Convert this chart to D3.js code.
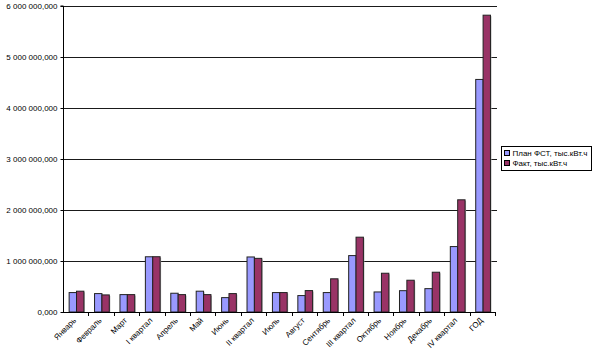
<!DOCTYPE html>
<html><head><meta charset="utf-8">
<script src="https://cdn.jsdelivr.net/npm/d3@7"></script>
<style>
html,body{margin:0;padding:0;background:#fff;}
svg{display:block;font-family:"Liberation Sans",Arial,sans-serif;}
</style></head>
<body><svg id="c" width="600" height="358"></svg>
<script>
const categories = ["Январь","Февраль","Март","I квартал","Апрель","Май","Июнь","II квартал","Июль","Август","Сентябрь","III квартал","Октябрь","Ноябрь","Декабрь","IV квартал","ГОД"];
const seriesNames = ["План ФСТ, тыс.кВт.ч","Факт, тыс.кВт.ч"];
const planValues = [381000,361000,341000,1083000,368000,408000,282000,1079000,381000,322000,381000,1106000,393000,418000,458000,1283000,4560000];
const factValues = [408000,335000,341000,1084000,341000,341000,361000,1052000,381000,420000,651000,1467000,760000,623000,780000,2200000,5820000];
const yTicks = [0,1000000,2000000,3000000,4000000,5000000,6000000];
const yTickLabels = ["0,000","1 000 000,000","2 000 000,000","3 000 000,000","4 000 000,000","5 000 000,000","6 000 000,000"];
const colors = ["#9999FF","#993366"];

const svg = d3.select("#c");
const L = 63, R = 495, T = 6, B = 312;
const x0 = d3.scaleBand().domain(categories).range([L, R]).padding(0);
const bw = x0.bandwidth();
const gap = bw * 0.42;
const x1 = d3.scaleBand().domain([0,1]).range([gap/2 + 0.8, bw - gap/2 + 0.8]).padding(0);
const y = d3.scaleLinear().domain([0, 6000000]).range([B, T]);

// gridlines
svg.append("g").selectAll("line").data(yTicks.filter(d=>d>0)).join("line")
  .attr("x1", L).attr("x2", R + 2)
  .attr("y1", d => Math.round(y(d)) + 0.5).attr("y2", d => Math.round(y(d)) + 0.5)
  .attr("stroke", "#1a1a1a").attr("stroke-width", 1);

// bars
const data = [planValues, factValues];
const g = svg.append("g");
categories.forEach((c, i) => {
  [0,1].forEach(s => {
    const v = data[s][i];
    const bx = x0(c) + x1(s);
    // shadow
    g.append("rect")
      .attr("x", bx + 1).attr("y", y(v) + 1)
      .attr("width", x1.bandwidth()).attr("height", B - y(v) - 1)
      .attr("fill", "#b0b0b0");
    g.append("rect")
      .attr("x", bx).attr("y", y(v))
      .attr("width", x1.bandwidth()).attr("height", B - y(v))
      .attr("fill", colors[s]).attr("stroke", "#222").attr("stroke-width", 1);
  });
});

// y axis
const yAxis = d3.axisLeft(y).tickValues(yTicks).tickSize(3).tickFormat((d,i)=>yTickLabels[i]);
const ya = svg.append("g").attr("transform", `translate(${L + 0.5},0)`).call(yAxis);
ya.select(".domain").attr("stroke", "#000").attr("d", `M-3,${T}H0V${B}`);
ya.selectAll(".tick line").attr("stroke", "#000");
ya.selectAll(".tick text").attr("font-size", 8).attr("fill", "#000").attr("x", -6)
  .attr("font-family", '"Liberation Sans",Arial,sans-serif');

// x axis
const xAxis = d3.axisBottom(x0).tickSize(0).tickFormat("");
const xa = svg.append("g").attr("transform", `translate(0,${B + 0.5})`).call(xAxis);
xa.select(".domain").attr("stroke", "#000").attr("d", `M${L},0H${R}`);
xa.selectAll(".tick").remove();
// category boundary ticks
svg.append("g").selectAll("line").data(categories.map((c,i)=>i+1)).join("line")
  .attr("x1", i => Math.round(L + i*bw) + 0.5).attr("x2", i => Math.round(L + i*bw) + 0.5)
  .attr("y1", B).attr("y2", B + 4).attr("stroke", "#000");
// labels
svg.append("g").selectAll("text").data(categories).join("text")
  .attr("transform", c => `translate(${x0(c) + bw/2 + 1},${B + 9}) rotate(-45)`)
  .attr("text-anchor", "end").attr("font-size", 8).attr("fill", "#000")
  .text(c => c);

// legend
const lg = svg.append("g").attr("transform", "translate(501.5,146.5)");
lg.append("rect").attr("width", 90).attr("height", 24).attr("fill", "#fff").attr("stroke", "#000");
seriesNames.forEach((n, i) => {
  lg.append("rect").attr("x", 3).attr("y", 4 + i*10).attr("width", 5).attr("height", 5)
    .attr("fill", colors[i]).attr("stroke", "#000");
  lg.append("text").attr("x", 11).attr("y", 9.5 + i*10).attr("font-size", 8).attr("fill", "#000").text(n);
});
</script></body></html>
